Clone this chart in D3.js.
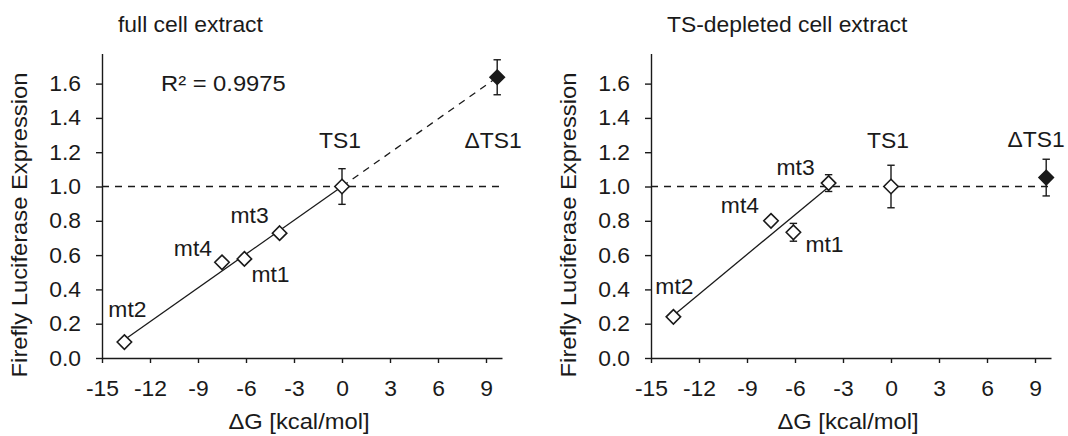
<!DOCTYPE html>
<html><head><meta charset="utf-8">
<script src="https://cdn.jsdelivr.net/npm/d3@7"></script>
<style>
body{margin:0;background:#fff}
svg{display:block}
text{font-family:"Liberation Sans",Arial,Helvetica,sans-serif}
</style>
</head><body>
<svg id="c" width="1068" height="436"></svg>
<script>
// ---------------- data ----------------
const constructs   = ["mt2", "mt4", "mt1", "mt3", "TS1", "ΔTS1"];
const deltaG       = [-13.6, -7.5, -6.1, -3.9, 0, 9.7];
const filledMarker = [false, false, false, false, false, true];
const fullExpr     = [0.093, 0.558, 0.578, 0.728, 1.0, 1.637];
const fullErr      = [0.02, 0.02, 0.02, 0.02, 0.104, 0.102];
const depletedExpr = [0.24, 0.80, 0.733, 1.02, 1.0, 1.052];
const depletedErr  = [0.02, 0.02, 0.052, 0.049, 0.124, 0.107];
const xTicks = [-15, -12, -9, -6, -3, 0, 3, 6, 9];
const yTicks = [0, 0.2, 0.4, 0.6, 0.8, 1.0, 1.2, 1.4, 1.6];
const xDomain = [-15, 10];
const yDomain = [0, 1.775];
const referenceLevel = 1.0;
const panelTitles = ["full cell extract", "TS-depleted cell extract"];
const r2Text = "R² = 0.9975";
const xTitle = "ΔG [kcal/mol]";
const yTitle = "Firefly Luciferase Expression";

// ---------------- layout (positions / styles) ----------------
const INK = "#1a1a1a";
const SX = 1.04;   // slight horizontal stretch of the reference font
const FS = 22;
const fullLabelPos = [[3,-25,"middle"],[-10,-6,"end"],[7,23,"start"],[-11,-10,"end"],[-2,-38.7,"middle"],[-4,70.7,"middle"]];
const depLabelPos  = [[1,-23,"middle"],[-12,-7.4,"end"],[12,19.4,"start"],[-14,-8.3,"end"],[-3,-38.7,"middle"],[-10,-30.3,"middle"]];

const panels = [
  {left:102, title:panelTitles[0], vals:fullExpr, errs:fullErr, labels:fullLabelPos,
   fitIdx:[0,1,2,3,4,5], solidTo:0, dashedTo:9.7, r2:true},
  {left:651, title:panelTitles[1], vals:depletedExpr, errs:depletedErr, labels:depLabelPos,
   fitIdx:[0,1,2,3], solidTo:null, dashedTo:null, r2:false}
];

const svg = d3.select("#c");
const hyphenInt = d => String(d);   // plain hyphen-minus like the reference

function stext(g, str, x, y, anchor, rot, sx) {
  return g.append("text")
    .attr("transform", `translate(${x},${y})` + (rot ? ` rotate(${rot})` : "") + ` scale(${sx || SX},1)`)
    .attr("text-anchor", anchor)
    .attr("font-size", FS)
    .attr("fill", INK)
    .text(str);
}

function linfit(xs, ys) {
  const mx = d3.mean(xs), my = d3.mean(ys);
  let sxy = 0, sxx = 0;
  xs.forEach((v, i) => { sxy += (v - mx) * (ys[i] - my); sxx += (v - mx) * (v - mx); });
  const b = sxy / sxx;
  return {a: my - b * mx, b};
}

panels.forEach(p => {
  const x = d3.scaleLinear().domain(xDomain).range([p.left, p.left + 400]);
  const y = d3.scaleLinear().domain(yDomain).range([358, 53.6]);
  const g = svg.append("g");

  // axes
  const xa = g.append("g").attr("transform", `translate(0,${y(0)})`)
    .call(d3.axisBottom(x).tickValues(xTicks).tickSize(5).tickSizeOuter(0).tickPadding(17.4).tickFormat(hyphenInt));
  const ya = g.append("g").attr("transform", `translate(${x(-15)},0)`)
    .call(d3.axisLeft(y).tickValues(yTicks).tickSize(6).tickSizeOuter(0).tickPadding(15).tickFormat(d3.format(".1f")));
  [xa, ya].forEach(a => {
    a.style("color", INK).attr("font-size", FS).attr("font-family", null);
    a.selectAll("path,line").attr("stroke-width", 1.4);
  });
  xa.selectAll("text").attr("transform", `scale(${SX},1)`);
  ya.selectAll("text").attr("x", -21 / SX).attr("transform", `scale(${SX},1)`);

  // reference dashed line at 1.0
  g.append("line")
    .attr("x1", x(xDomain[0])).attr("x2", x(xDomain[1]))
    .attr("y1", y(referenceLevel)).attr("y2", y(referenceLevel))
    .attr("stroke", INK).attr("stroke-width", 1.4).attr("stroke-dasharray", "7,6");

  // regression line
  const fx = p.fitIdx.map(i => deltaG[i]), fy = p.fitIdx.map(i => p.vals[i]);
  const fit = linfit(fx, fy);
  const f = v => fit.a + fit.b * v;
  const xmin = d3.min(fx);
  const solidEnd = p.solidTo !== null ? p.solidTo : d3.max(fx);
  g.append("line")
    .attr("x1", x(xmin)).attr("y1", y(f(xmin)))
    .attr("x2", x(solidEnd)).attr("y2", y(f(solidEnd)))
    .attr("stroke", INK).attr("stroke-width", 1.3);
  if (p.dashedTo !== null) {
    g.append("line")
      .attr("x1", x(solidEnd)).attr("y1", y(f(solidEnd)))
      .attr("x2", x(p.dashedTo)).attr("y2", y(f(p.dashedTo)))
      .attr("stroke", INK).attr("stroke-width", 1.3).attr("stroke-dasharray", "7,6");
  }

  // error bars
  deltaG.forEach((d, i) => {
    const cx = x(d), lo = y(p.vals[i] - p.errs[i]), hi = y(p.vals[i] + p.errs[i]);
    const eg = g.append("g").attr("stroke", INK).attr("stroke-width", 1.4);
    eg.append("line").attr("x1", cx).attr("x2", cx).attr("y1", lo).attr("y2", hi);
    eg.append("line").attr("x1", cx - 3.7).attr("x2", cx + 3.7).attr("y1", lo).attr("y2", lo);
    eg.append("line").attr("x1", cx - 3.7).attr("x2", cx + 3.7).attr("y1", hi).attr("y2", hi);
  });

  // markers
  deltaG.forEach((d, i) => {
    g.append("path")
      .attr("transform", `translate(${x(d)},${y(p.vals[i])})`)
      .attr("d", "M0,-7.2L7.2,0L0,7.2L-7.2,0Z")
      .attr("fill", filledMarker[i] ? INK : "#fff")
      .attr("stroke", INK).attr("stroke-width", 1.6);
  });

  // point labels
  constructs.forEach((name, i) => {
    const o = p.labels[i];
    stext(g, name, x(deltaG[i]) + o[0], y(p.vals[i]) + o[1], o[2]);
  });

  // titles
  stext(g, p.title, p.left + 16, 32, "start");
  stext(g, xTitle, p.left + 197, 428.5, "middle", 0, 1.08);
  stext(g, yTitle, p.left - 75.5, 225, "middle", -90, 1.08);
  if (p.r2) stext(g, r2Text, p.left + 59, 91, "start", 0, 1.08);
});
</script>
</body></html>
